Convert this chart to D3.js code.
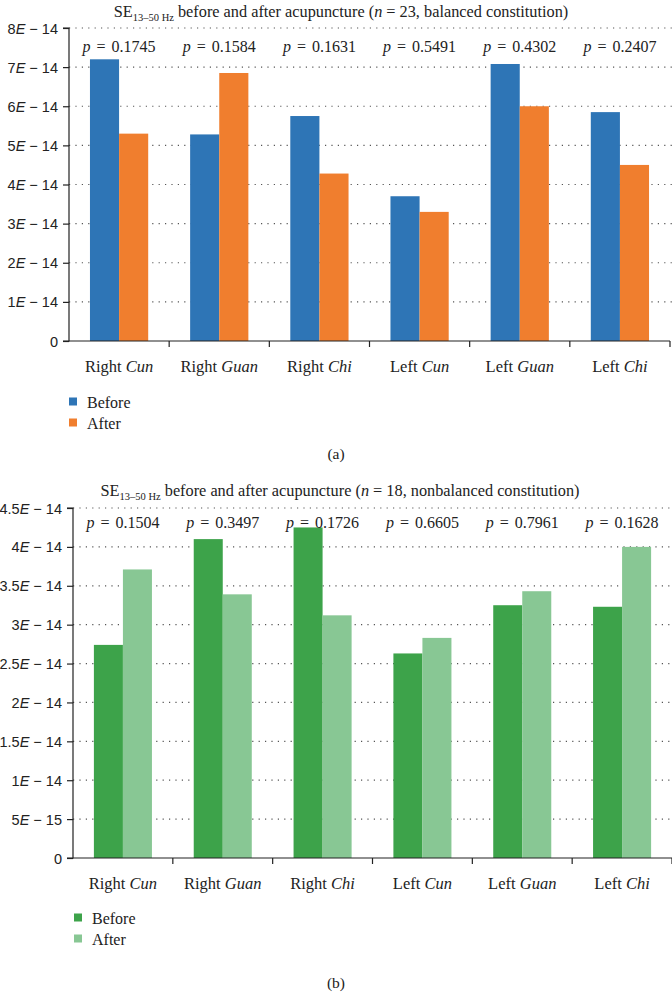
<!DOCTYPE html>
<html><head><meta charset="utf-8">
<script src="https://cdn.jsdelivr.net/npm/d3@7"></script>
<style>body{margin:0;background:#fff}svg{display:block;font-family:"Liberation Serif","DejaVu Serif",serif}</style>
</head><body><svg id="c" width="672" height="996"></svg>
<script>
const sides = ["Right","Right","Right","Left","Left","Left"];
const points = ["Cun","Guan","Chi","Cun","Guan","Chi"];
const seriesNames = ["Before","After"];
const beforeA = [7.2e-14,5.28e-14,5.75e-14,3.7e-14,7.08e-14,5.85e-14];
const afterA  = [5.3e-14,6.85e-14,4.28e-14,3.3e-14,6.0e-14,4.5e-14];
const pA = ["0.1745","0.1584","0.1631","0.5491","0.4302","0.2407"];
const ticksA = [0,1e-14,2e-14,3e-14,4e-14,5e-14,6e-14,7e-14,8e-14];
const tickLabelsA = [["0"],["1","E"," − 14"],["2","E"," − 14"],["3","E"," − 14"],["4","E"," − 14"],["5","E"," − 14"],["6","E"," − 14"],["7","E"," − 14"],["8","E"," − 14"]];
const beforeB = [2.74e-14,4.1e-14,4.25e-14,2.63e-14,3.25e-14,3.23e-14];
const afterB  = [3.71e-14,3.39e-14,3.12e-14,2.83e-14,3.43e-14,4.0e-14];
const pB = ["0.1504","0.3497","0.1726","0.6605","0.7961","0.1628"];
const ticksB = [0,0.5e-14,1e-14,1.5e-14,2e-14,2.5e-14,3e-14,3.5e-14,4e-14,4.5e-14];
const tickLabelsB = [["0"],["5","E"," − 15"],["1","E"," − 14"],["1.5","E"," − 14"],["2","E"," − 14"],["2.5","E"," − 14"],["3","E"," − 14"],["3.5","E"," − 14"],["4","E"," − 14"],["4.5","E"," − 14"]];

const svg = d3.select("#c");
const cats = d3.range(6);

function panel(o){
  const g = svg.append("g");
  const x0 = d3.scaleBand().domain(cats).range([o.left, o.right]).padding(0);
  const x1 = d3.scaleBand().domain(seriesNames).range([0, x0.bandwidth()]).paddingInner(0).paddingOuter(0.72);
  const y = d3.scaleLinear().domain([0, o.max]).range([o.bottom, o.top]);
  // title
  const t = g.append("text").attr("x", o.titleX).attr("y", o.titleY).attr("text-anchor","middle").attr("font-size",16.3).attr("fill","#222");
  t.append("tspan").text("SE");
  t.append("tspan").attr("font-size",10.5).attr("dy",4).text("13–50 Hz");
  t.append("tspan").attr("dy",-4).text(" before and after acupuncture (");
  t.append("tspan").attr("font-style","italic").text("n");
  t.append("tspan").text(" = " + o.n + ", " + o.constitution + ")");
  // grid
  g.append("g").selectAll("line").data(o.ticks.slice(1)).join("line")
    .attr("x1", o.left).attr("x2", 672).attr("y1", d=>y(d)).attr("y2", d=>y(d))
    .attr("stroke","#555").attr("stroke-width",1.2).attr("stroke-dasharray","1.2,5.2");
  // bars
  const data = cats.map(i=>[{k:"Before",v:o.before[i],i},{k:"After",v:o.after[i],i}]).flat();
  g.append("g").selectAll("rect").data(data).join("rect")
    .attr("x", d=>x0(d.i)+x1(d.k)).attr("width", x1.bandwidth())
    .attr("y", d=>y(d.v)).attr("height", d=>o.bottom - y(d.v))
    .attr("fill", d=>o.colors[d.k]);
  // y axis
  const ya = d3.axisLeft(y).tickValues(o.ticks).tickSize(6).tickFormat("");
  const yg = g.append("g").attr("transform",`translate(${o.left},0)`).call(ya);
  yg.selectAll("path,line").attr("stroke","#222").attr("stroke-width",1.2);
  yg.select(".domain").attr("d", `M-6,${o.top}H0V${o.bottom}H-6`);
  yg.selectAll(".tick").each(function(d,i){
    const tx = d3.select(this).append("text").attr("x",-11).attr("dy","0.35em").attr("text-anchor","end")
      .attr("font-size",14.5).attr("fill","#222");
    const parts = o.tickLabels[i];
    tx.append("tspan").text(parts[0]);
    if(parts.length>1){ tx.append("tspan").attr("font-style","italic").text(parts[1]); tx.append("tspan").text(parts[2]); }
  });
  // x axis
  g.append("line").attr("x1",o.left).attr("x2",o.right).attr("y1",o.bottom).attr("y2",o.bottom).attr("stroke","#222").attr("stroke-width",1.2);
  g.append("g").selectAll("line").data(cats.slice(1).concat([6])).join("line")
    .attr("x1", d=> d<6 ? x0(d) : o.right).attr("x2", d=> d<6 ? x0(d) : o.right)
    .attr("y1", o.bottom).attr("y2", o.bottom+6).attr("stroke","#222").attr("stroke-width",1.2);
  g.append("g").selectAll("text").data(cats).join("text")
    .attr("x", d=>x0(d)+x0.bandwidth()/2).attr("y", o.bottom+31).attr("text-anchor","middle")
    .attr("font-size",16.5).attr("fill","#222")
    .each(function(d){ const s=d3.select(this); s.append("tspan").text(sides[d]+" "); s.append("tspan").attr("font-style","italic").text(points[d]); });
  // p labels
  g.append("g").selectAll("text").data(cats).join("text")
    .attr("x", d=>x0(d)+x0.bandwidth()/2).attr("y", o.pY).attr("text-anchor","middle")
    .attr("font-size",16).attr("word-spacing",2).attr("fill","#222")
    .each(function(d){ const s=d3.select(this); s.append("tspan").attr("font-style","italic").text("p"); s.append("tspan").text(" = "+o.p[d]); });
  // legend
  seriesNames.forEach((k,j)=>{
    g.append("rect").attr("x",o.legX).attr("y",o.legY+j*21-4.5).attr("width",8).attr("height",8).attr("fill",o.colors[k]);
    g.append("text").attr("x",o.legX+18).attr("y",o.legY+j*21).attr("dy","0.35em").attr("font-size",16).attr("fill","#222").text(k);
  });
  g.append("text").attr("x",o.capX).attr("y",o.capY).attr("text-anchor","middle").attr("font-size",15.5).attr("fill","#222").text(o.cap);
}

panel({left:69,right:670,top:28,bottom:341,max:8e-14,ticks:ticksA,tickLabels:tickLabelsA,before:beforeA,after:afterA,p:pA,
  colors:{Before:"#2E75B6",After:"#F07E2E"},n:23,constitution:"balanced constitution",titleX:341,titleY:17,pY:52,
  legX:69,legY:402,capX:336,capY:459,cap:"(a)"});
panel({left:73,right:672,top:508,bottom:858,max:4.5e-14,ticks:ticksB,tickLabels:tickLabelsB,before:beforeB,after:afterB,p:pB,
  colors:{Before:"#3DA34A",After:"#88C794"},n:18,constitution:"nonbalanced constitution",titleX:340,titleY:496,pY:528,
  legX:74,legY:918,capX:336,capY:988,cap:"(b)"});
</script></body></html>
